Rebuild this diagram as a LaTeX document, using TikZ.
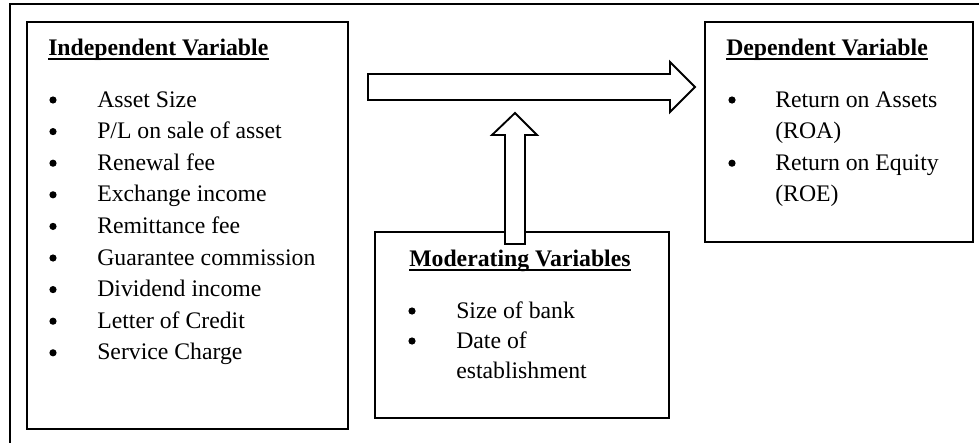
\documentclass[tikz,border=0pt]{standalone}
\usepackage{fontspec}
\setmainfont{Liberation Serif}
\begin{document}
\begin{tikzpicture}[x=0.75pt,y=-0.75pt,
  box/.style={draw, line width=1.4pt, rectangle, inner sep=0pt},
  txt/.style={anchor=base west, inner sep=0pt, font=\fontsize{17.8}{23.7}\selectfont},
  head/.style={anchor=base west, inner sep=0pt, font=\fontsize{17.8}{23.7}\selectfont\bfseries},
  bul/.style={circle, fill=black, inner sep=0pt, minimum size=5.4pt},
  uline/.style={line width=1.5pt},
  blockarrow/.style={draw, fill=white, line width=1.4pt, line join=miter}]
\useasboundingbox (0,0) rectangle (979,443);
% outer frame (partially visible)
\draw[line width=1.1pt] (10,443) -- (10,4) -- (979,4);

% boxes
\node[box, minimum width=240.75pt, minimum height=305.25pt] (indep) at (187.5,225.5) {};
\node[box, minimum width=201pt, minimum height=165pt] (dep) at (839,132) {};
\node[box, minimum width=220.5pt, minimum height=139.5pt] (mod) at (522,325) {};

% Independent variable
\node[head] (hi) at (48,55) {Independent Variable};
\draw[uline] ([yshift=-3pt]hi.base west) -- ([yshift=-3pt]hi.base east);
\foreach \t [count=\i from 0] in {Asset Size, P/L on sale of asset, Renewal fee, Exchange income, Remittance fee, Guarantee commission, Dividend income, Letter of Credit, Service Charge}{
  \node[bul] (ib\i) at (53,100+31.6*\i) {};
  \node[txt] (it\i) at (97,107+31.6*\i) {\t};
}

% Dependent variable
\node[head] (hd) at (726,55) {Dependent Variable};
\draw[uline] ([yshift=-3pt]hd.base west) -- ([yshift=-3pt]hd.base east);
\node[bul] (db1) at (732,100) {};
\node[txt] (dt1) at (775,107) {Return on Assets};
\node[txt] (dt2) at (775,138.6) {(ROA)};
\node[bul] (db3) at (732,163.2) {};
\node[txt] (dt3) at (775,170.2) {Return on Equity};
\node[txt] (dt4) at (775,201.8) {(ROE)};

% Moderating variables
\node[head] (hm) at (409,266) {Moderating Variables};
\draw[uline] ([yshift=-3pt]hm.base west) -- ([yshift=-3pt]hm.base east);
\node[bul] (mb1) at (412,311) {};
\node[txt] (mt1) at (456,318) {Size of bank};
\node[bul] (mb2) at (412,341) {};
\node[txt] (mt2) at (456,348) {Date of};
\node[txt] (mt3) at (456,378) {establishment};

% horizontal block arrow (independent -> dependent)
\draw[blockarrow] (368,74) -- (670,74) -- (670,62) -- (695,87) -- (670,112) -- (670,100) -- (368,100) -- cycle;
% vertical block arrow (moderating -> relation)
\draw[blockarrow] (505,244) -- (505,135) -- (492,135) -- (515,113) -- (537,135) -- (525,135) -- (525,244) -- cycle;
\end{tikzpicture}
\end{document}
